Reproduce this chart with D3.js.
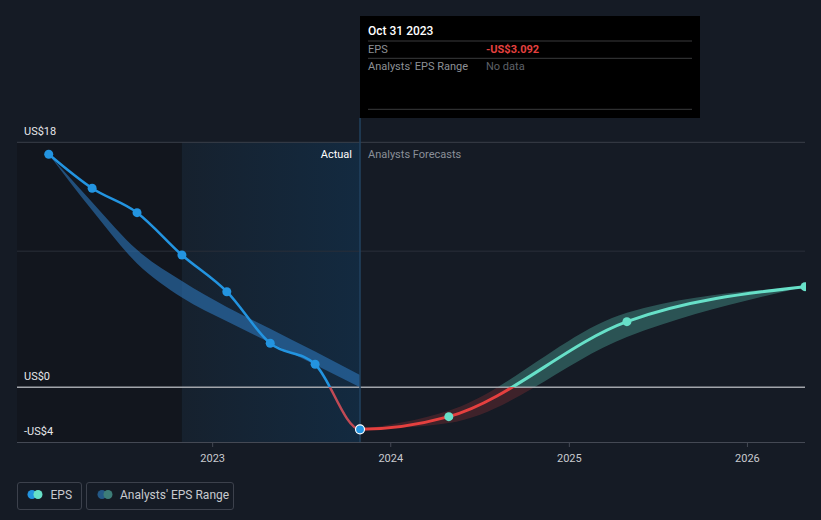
<!DOCTYPE html>
<html>
<head>
<meta charset="utf-8">
<script src="https://cdn.jsdelivr.net/npm/d3@7"></script>
<style>
  html, body { margin: 0; padding: 0; background: #151b25; }
  svg { display: block; font-family: Roboto, "Noto Sans", sans-serif; }
</style>
</head>
<body>
<svg id="chart" width="821" height="520"></svg>
<script>
// ---------- data ----------
const actualDates = ["2022-01-31","2022-04-30","2022-07-31","2022-10-31","2023-01-31","2023-04-30","2023-07-31","2023-10-31"];
const actualEPS   = [17.12, 14.62, 12.83, 9.72, 7.02, 3.23, 1.69, -3.092];
const pastRangeHigh = [17.12, 13.6, 10.1, 7.8, 5.9, 4.3, 2.62, 0.9];
const pastRangeLow  = [17.12, 13.0, 9.1, 6.6, 4.85, 3.28, 1.66, 0.0];

const forecastDates = ["2023-10-31","2024-04-30","2025-04-30","2026-04-30"];
const forecastEPS   = [-3.092, -2.16, 4.82, 7.39];
const forecastHigh  = [-3.092, -1.72, 5.47, 7.39];
const forecastLow   = [-3.092, -2.62, 3.70, 7.39];

const yTickValues = [18, 0, -4];
const yTickLabels = ["US$18", "US$0", "-US$4"];
const yGridExtra = [10];
const xTickYears = [2023, 2024, 2025, 2026];

const tooltipDate = "Oct 31 2023";
const tooltipEPS = "-US$3.092";
const tooltipRange = "No data";

// ---------- layout ----------
const W = 821, H = 520;
const L = 17, R = 805, T = 142, B = 442;
const parse = d3.utcParse("%Y-%m-%d");

const x = d3.scaleUtc()
  .domain([parse("2021-11-27"), parse("2026-04-30")])
  .range([L, R]);
const y = d3.scaleLinear().domain([-4, 18]).range([441.7, 142.3]);

const svg = d3.select("#chart");
const defs = svg.append("defs");

const splitX = x(parse(actualDates[actualDates.length - 1]));
const zeroY = y(0);

// clip paths
function clip(id, x0, y0, x1, y1) {
  defs.append("clipPath").attr("id", id).append("rect")
    .attr("x", x0).attr("y", y0).attr("width", x1 - x0).attr("height", y1 - y0);
}
clip("plot", L, 0, R + 1, H);
clip("pastAbove", 0, 0, splitX, zeroY);
clip("pastBelow", 0, zeroY, splitX, H);
clip("futAbove", splitX, 0, W, zeroY);
clip("futBelow", splitX, zeroY, W, H);

const grad = defs.append("linearGradient").attr("id", "hl").attr("x1", 0).attr("x2", 1).attr("y1", 0).attr("y2", 0);
grad.append("stop").attr("offset", "0%").attr("stop-color", "#16212e");
grad.append("stop").attr("offset", "100%").attr("stop-color", "#132a40");

// background
svg.append("rect").attr("width", W).attr("height", H).attr("fill", "#151b25");

const oneYearBefore = x(parse("2022-10-31"));
svg.append("rect").attr("x", L).attr("y", T).attr("width", oneYearBefore - L).attr("height", B - T).attr("fill", "#12161e");
svg.append("rect").attr("x", oneYearBefore).attr("y", T).attr("width", splitX - oneYearBefore).attr("height", B - T).attr("fill", "url(#hl)");

// gridlines
svg.append("g").selectAll("line").data(yTickValues.filter(v => v !== 0 && v !== -4).concat(yGridExtra))
  .join("line")
  .attr("x1", L).attr("x2", R).attr("y1", d => y(d)).attr("y2", d => y(d))
  .attr("stroke", d => d === 18 ? "#3a3f49" : "#2a2f39").attr("stroke-width", 1);

// bottom axis
const xAxis = d3.axisBottom(x)
  .tickValues(xTickYears.map(yr => parse(yr + "-01-01")))
  .tickFormat(d3.utcFormat("%Y"))
  .tickSize(5).tickSizeOuter(0);
const gx = svg.append("g").attr("transform", `translate(0,${B})`).call(xAxis);
gx.select(".domain").attr("stroke", "#444954").attr("d", `M${L},0.5H${R}`);
gx.selectAll(".tick line").attr("stroke", "#444954");
gx.selectAll(".tick text").attr("fill", "#c8cacf").attr("font-size", 11).attr("dy", "1.1em")
  .attr("font-family", "Roboto, sans-serif");

// y labels
svg.append("g").selectAll("text").data(yTickValues).join("text")
  .attr("x", 24).attr("y", d => y(d) - 7)
  .attr("fill", "#e6e7ea").attr("font-size", 11)
  .text((d, i) => yTickLabels[i]);

// bands
const area = d3.area().x(d => x(d.date)).y0(d => y(d.lo)).y1(d => y(d.hi)).curve(d3.curveMonotoneX);
const pastBand = actualDates.map((d, i) => ({ date: parse(d), lo: pastRangeLow[i], hi: pastRangeHigh[i] }));
const futBand = forecastDates.map((d, i) => ({ date: parse(d), lo: forecastLow[i], hi: forecastHigh[i] }));

svg.append("path").datum(pastBand).attr("d", area).attr("fill", "#2b73b5").attr("opacity", 0.62)
  .attr("clip-path", "url(#plot)");
svg.append("path").datum(futBand).attr("d", area).attr("fill", "#48998d").attr("opacity", 0.45)
  .attr("clip-path", "url(#futAbove)");
svg.append("path").datum(futBand).attr("d", area).attr("fill", "#e5403f").attr("opacity", 0.2)
  .attr("clip-path", "url(#futBelow)");

// zero line
svg.append("line").attr("x1", L).attr("x2", R).attr("y1", zeroY).attr("y2", zeroY)
  .attr("stroke", "#a2a5ab").attr("stroke-width", 1.5);

// vertical divider
svg.append("line").attr("x1", splitX).attr("x2", splitX).attr("y1", 118).attr("y2", B)
  .attr("stroke", "#21425f").attr("stroke-width", 1.5);

// labels Actual / Analysts Forecasts
svg.append("text").attr("x", splitX - 8).attr("y", 158).attr("text-anchor", "end")
  .attr("fill", "#ffffff").attr("font-size", 11).text("Actual");
svg.append("text").attr("x", splitX + 8).attr("y", 158)
  .attr("fill", "#8a8f98").attr("font-size", 11).text("Analysts Forecasts");

// EPS line (one continuous series)
const allPts = actualDates.map((d, i) => ({ date: parse(d), v: actualEPS[i] }))
  .concat(forecastDates.slice(1).map((d, i) => ({ date: parse(d), v: forecastEPS[i + 1] })));
const line = d3.line().x(d => x(d.date)).y(d => y(d.v)).curve(d3.curveMonotoneX);

const segs = [
  { clip: "pastAbove", color: "#2394e0", w: 2.5 },
  { clip: "pastBelow", color: "#c04a55", w: 2.5 },
  { clip: "futAbove", color: "#67e0c8", w: 3 },
  { clip: "futBelow", color: "#e5403f", w: 3 }
];
segs.forEach(s => {
  svg.append("path").datum(allPts).attr("d", line).attr("fill", "none")
    .attr("stroke", s.color).attr("stroke-width", s.w).attr("clip-path", `url(#${s.clip})`);
});

// dots
const dotG = svg.append("g").attr("clip-path", "url(#plot)");
dotG.selectAll("circle.a").data(actualDates.slice(0, -1)).join("circle")
  .attr("cx", d => x(parse(d))).attr("cy", (d, i) => y(actualEPS[i])).attr("r", 4.5).attr("fill", "#2394e0");
dotG.selectAll("circle.f").data(forecastDates.slice(1)).join("circle")
  .attr("cx", d => x(parse(d))).attr("cy", (d, i) => y(forecastEPS[i + 1])).attr("r", 4.5).attr("fill", "#67e0c8");
dotG.append("circle").attr("cx", splitX).attr("cy", y(actualEPS[actualEPS.length - 1])).attr("r", 4.5)
  .attr("fill", "#2394e0").attr("stroke", "#ffffff").attr("stroke-width", 1.2);

// tooltip
const tt = svg.append("g");
tt.append("rect").attr("x", 360).attr("y", 16).attr("width", 340).attr("height", 102).attr("fill", "#000000");
[41, 58.3, 109.3].forEach(yy => tt.append("line").attr("x1", 368).attr("x2", 692).attr("y1", yy).attr("y2", yy)
  .attr("stroke", "#3a3b3d").attr("stroke-width", 1));
tt.append("text").attr("x", 368).attr("y", 35).attr("fill", "#ffffff").attr("font-size", 12).attr("font-weight", 500).text(tooltipDate);
tt.append("text").attr("x", 368).attr("y", 52.5).attr("fill", "#8d9096").attr("font-size", 11).text("EPS");
tt.append("text").attr("x", 486).attr("y", 52.5).attr("fill", "#e5403f").attr("font-size", 11).attr("font-weight", 700).text(tooltipEPS);
tt.append("text").attr("x", 368).attr("y", 70).attr("fill", "#8d9096").attr("font-size", 11).text("Analysts' EPS Range");
tt.append("text").attr("x", 486).attr("y", 70).attr("fill", "#5e6168").attr("font-size", 11).text(tooltipRange);

// legend
const lg = svg.append("g");
lg.append("rect").attr("x", 17.5).attr("y", 482.5).attr("width", 64).attr("height", 27).attr("rx", 2.5)
  .attr("fill", "none").attr("stroke", "#3c414c");
lg.append("circle").attr("cx", 32).attr("cy", 494.5).attr("r", 4.5).attr("fill", "#2394e0");
lg.append("circle").attr("cx", 38).attr("cy", 494.5).attr("r", 4.5).attr("fill", "#67e0c8");
lg.append("text").attr("x", 50.5).attr("y", 499).attr("fill", "#c8cacf").attr("font-size", 12).text("EPS");

lg.append("rect").attr("x", 86.5).attr("y", 482.5).attr("width", 147).attr("height", 27).attr("rx", 2.5)
  .attr("fill", "none").attr("stroke", "#3c414c");
lg.append("circle").attr("cx", 102).attr("cy", 494.5).attr("r", 4.5).attr("fill", "#245987");
lg.append("circle").attr("cx", 108).attr("cy", 494.5).attr("r", 4.5).attr("fill", "#3d7d78");
lg.append("text").attr("x", 120).attr("y", 499).attr("fill", "#c8cacf").attr("font-size", 12).text("Analysts' EPS Range");
</script>
</body>
</html>
